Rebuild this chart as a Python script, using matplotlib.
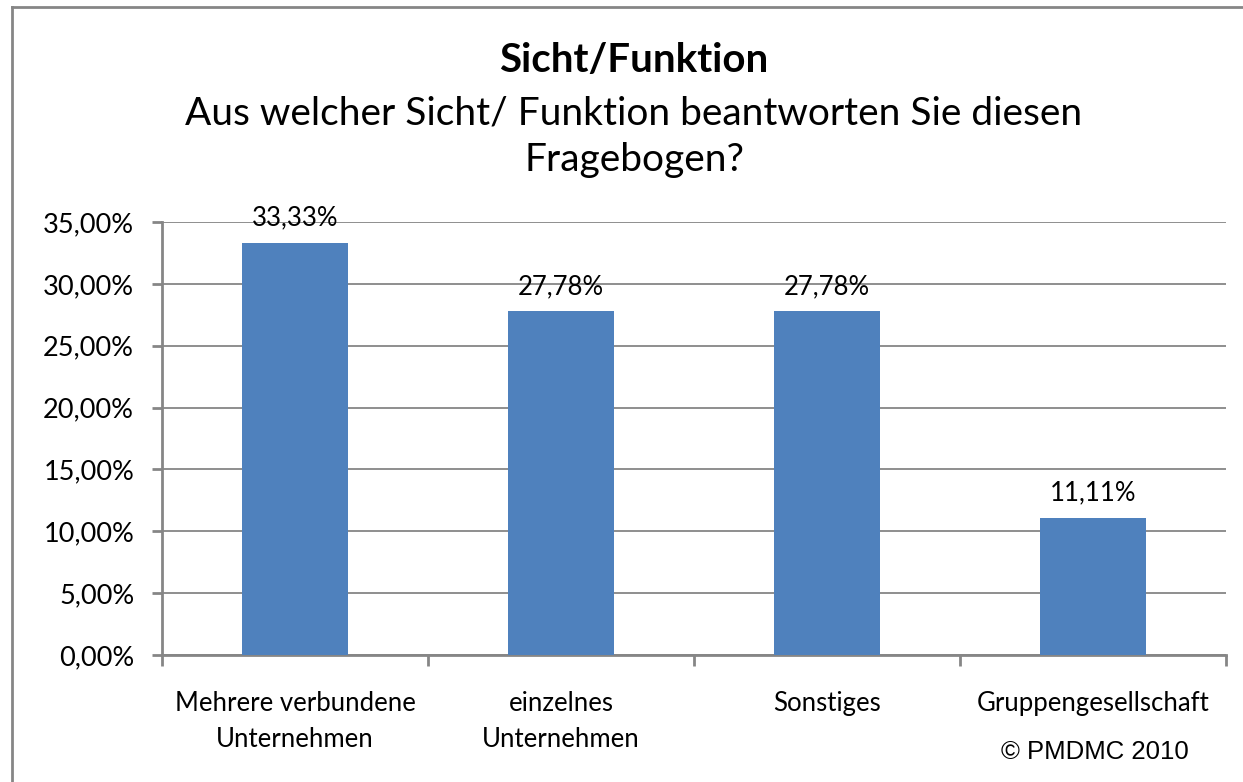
import matplotlib
matplotlib.use("Agg")
import matplotlib.pyplot as plt
from matplotlib.lines import Line2D
from matplotlib.ticker import FuncFormatter

categories = ["Mehrere verbundene\nUnternehmen", "einzelnes\nUnternehmen", "Sonstiges", "Gruppengesellschaft"]
values = [33.33, 27.78, 27.78, 11.11]
value_labels = ["33,33%", "27,78%", "27,78%", "11,11%"]
yticks = [0, 5, 10, 15, 20, 25, 30, 35]

W, H = 1243, 782
fig = plt.figure(figsize=(W / 100, H / 100), dpi=100)
font = ["Lato", "DejaVu Sans"]
gray = "#868686"

# outer frame (top and left visible)
fig.add_artist(Line2D([12 / W, 1.0], [1 - 7 / H, 1 - 7 / H], transform=fig.transFigure, color=gray, lw=2))
fig.add_artist(Line2D([12 / W, 12 / W], [0, 1 - 7 / H], transform=fig.transFigure, color=gray, lw=2))

ax = fig.add_axes([162 / W, 1 - 655 / H, (1226 - 162) / W, (655 - 222) / H])
x = list(range(len(categories)))
ax.bar(x, values, width=0.4, color="#4F81BD", zorder=3)
ax.set_xlim(-0.5, len(categories) - 0.5)
ax.set_ylim(0, 35)
ax.set_yticks(yticks)
ax.yaxis.set_major_formatter(FuncFormatter(lambda v, p: f"{v:.2f}%".replace(".", ",")))
ax.grid(axis="y", color=gray, lw=1.3, zorder=0)

for s in ["top", "right"]:
    ax.spines[s].set_visible(False)
for s in ["left", "bottom"]:
    ax.spines[s].set_color(gray)
    ax.spines[s].set_linewidth(2)

ax.set_xticks([i - 0.5 for i in range(len(categories) + 1)], minor=False)
ax.set_xticklabels([])
ax.set_xticks(x, minor=True)
ax.set_xticklabels(categories, minor=True, fontsize=18.5, family=font, linespacing=1.56)
ax.tick_params(axis="x", which="minor", length=0, pad=26)
ax.tick_params(axis="x", which="major", length=8, width=2, color=gray)
ax.tick_params(axis="y", length=7, width=2, color=gray, labelsize=19.5, pad=13)
for lab in ax.get_yticklabels():
    lab.set_family(font)

for xi, v, lbl in zip(x, values, value_labels):
    ax.text(xi, v + 2.0, lbl, ha="center", va="center", fontsize=18.5, family=font)

fig.text(634 / W, 1 - 60 / H, "Sicht/Funktion", ha="center", va="center", fontsize=29, fontweight="bold", family=font)
fig.text(634 / W, 1 - 113 / H, "Aus welcher Sicht/ Funktion beantworten Sie diesen", ha="center", va="center", fontsize=28, family=font)
fig.text(634 / W, 1 - 160 / H, "Fragebogen?", ha="center", va="center", fontsize=28, family=font)
fig.text(1095 / W, 1 - 752 / H, "© PMDMC 2010", ha="center", va="center", fontsize=18.5, family=["Liberation Sans", "DejaVu Sans"])

fig.savefig("out.png", dpi=100, facecolor="white")
